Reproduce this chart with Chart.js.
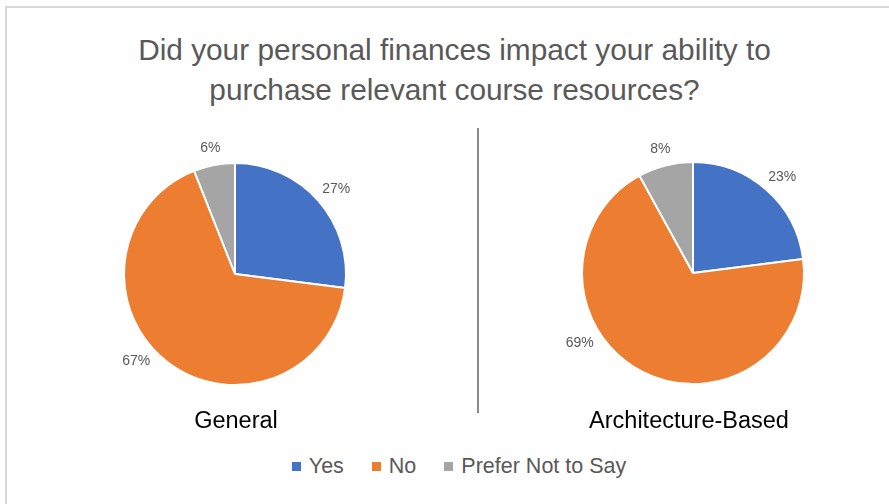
<!DOCTYPE html>
<html>
<head>
<meta charset="utf-8">
<script src="https://cdn.jsdelivr.net/npm/chart.js@4.4.1/dist/chart.umd.min.js"></script>
<style>
  html, body { margin: 0; overflow: hidden; }
  body { width: 889px; height: 504px; background: #fff; position: relative; font-family: "Liberation Sans", Arial, sans-serif; }
  .frame-l { position: absolute; left: 5px; top: 6px; width: 2px; height: 498px; background: #d9d9d9; }
  .frame-t { position: absolute; left: 5px; top: 6px; width: 884px; height: 2px; background: #d9d9d9; }
  .title { position: absolute; left: 0; width: 889px; padding-left: 20px; box-sizing: border-box; top: 30px; text-align: center; color: #595959; font-size: 29.8px; line-height: 40px; }
  .divider { position: absolute; left: 477px; top: 128px; width: 2px; height: 285px; background: #8c8c8c; }
  .sub { position: absolute; top: 407px; width: 300px; text-align: center; font-size: 23.5px; color: #000; }
  .pie { position: absolute; width: 300px; height: 300px; }
  #legend { position: absolute; left: 0; width: 889px; padding-left: 29px; box-sizing: border-box; top: 454px; display: flex; justify-content: center; color: #595959; font-size: 21.5px; }
  #legend span.item { display: flex; align-items: center; margin: 0 14px; }
  #legend i { display: inline-block; width: 9px; height: 9px; margin-right: 8px; }
</style>
</head>
<body>
<div class="frame-l"></div>
<div class="frame-t"></div>
<div class="title">Did your personal finances impact your ability to<br>purchase relevant course resources?</div>
<div class="divider"></div>
<div class="pie" style="left:85px;top:124px"><canvas id="general"></canvas></div>
<div class="pie" style="left:543px;top:123px"><canvas id="arch"></canvas></div>
<div class="sub" style="left:86px">General</div>
<div class="sub" style="left:539px">Architecture-Based</div>
<div id="legend"></div>
<script>
var categories = ['Yes', 'No', 'Prefer Not to Say'];
var generalValues = [27, 67, 6];
var archValues = [23, 69, 8];
var sliceColors = ['#4472C4', '#ED7D31', '#A5A5A5'];

// percentage labels just outside each slice ("best fit" style, angle can be overridden)
var outsideLabels = {
    id: 'outsideLabels',
    afterDatasetsDraw: function (chart, args, opts) {
        var ctx = chart.ctx;
        var data = chart.data.datasets[0].data;
        var angles = opts.angles || {};
        ctx.save();
        ctx.font = '14px "Liberation Sans", Arial, sans-serif';
        ctx.fillStyle = '#595959';
        ctx.textAlign = 'center';
        ctx.textBaseline = 'middle';
        chart.getDatasetMeta(0).data.forEach(function (arc, i) {
            var p = arc.getProps(['x', 'y', 'startAngle', 'endAngle', 'outerRadius'], true);
            var mid = (p.startAngle + p.endAngle) / 2;
            if (angles[i] !== undefined) mid = angles[i] * Math.PI / 180;
            var text = data[i] + '%';
            var w = ctx.measureText(text).width;
            var cx = Math.cos(mid), cy = Math.sin(mid);
            var d = p.outerRadius + 10;
            ctx.fillText(text, p.x + cx * (d + w / 2), p.y + cy * (d + 7));
        });
        ctx.restore();
    }
};

function CreatePie(element, values, labelAngles) {
    var config = {
        type: 'pie',
        data: {
            labels: categories,
            datasets: [{
                data: values,
                backgroundColor: sliceColors,
                borderColor: '#ffffff',
                borderWidth: 2,
                hoverOffset: 0
            }]
        },
        options: {
            responsive: true,
            maintainAspectRatio: false,
            animation: false,
            radius: 111,
            plugins: {
                legend: { display: false },
                tooltip: { enabled: false },
                outsideLabels: { angles: labelAngles }
            }
        },
        plugins: [outsideLabels]
    };
    return new Chart(document.querySelector(element), config);
}

CreatePie('#general', generalValues, { 1: 137 });
CreatePie('#arch', archValues, { 1: 147 });

var legend = document.getElementById('legend');
categories.forEach(function (c, i) {
    var item = document.createElement('span');
    item.className = 'item';
    item.innerHTML = '<i style="background:' + sliceColors[i] + '"></i>' + c;
    legend.appendChild(item);
});
</script>
</body>
</html>
